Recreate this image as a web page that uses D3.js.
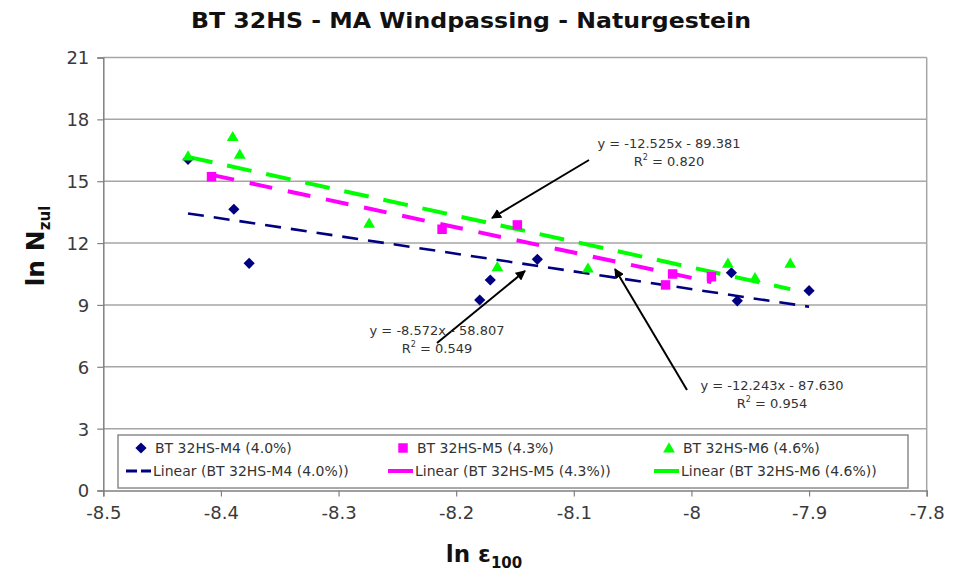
<!DOCTYPE html>
<html><head><meta charset="utf-8">
<script src="https://cdn.jsdelivr.net/npm/d3@7"></script>
<style>body{margin:0;background:#fff;} svg{display:block;font-family:"DejaVu Sans",sans-serif;}</style>
</head><body>
<svg id="chart" width="954" height="579"></svg>
<script>
// ---- data ----
const seriesNames = ["BT 32HS-M4 (4.0%)", "BT 32HS-M5 (4.3%)", "BT 32HS-M6 (4.6%)"];
const m4x = [-8.428, -8.389, -8.376, -8.180, -8.171, -8.131, -7.966, -7.961, -7.900];
const m4y = [16.06, 13.64, 11.02, 9.24, 10.21, 11.21, 10.56, 9.20, 9.69];
const m5x = [-8.408, -8.212, -8.148, -8.022, -8.016, -7.983];
const m5y = [15.22, 12.67, 12.88, 9.97, 10.50, 10.37];
const m6x = [-8.428, -8.390, -8.384, -8.274, -8.165, -8.088, -7.969, -7.946, -7.916];
const m6y = [16.22, 17.16, 16.30, 12.96, 10.85, 10.78, 11.02, 10.32, 11.02];
const trendSlopes = [-8.572, -12.243, -12.525];
const trendIntercepts = [-58.807, -87.630, -89.381];
const trendR2 = ["0.549", "0.954", "0.820"];
const xTicks = [-8.5, -8.4, -8.3, -8.2, -8.1, -8, -7.9, -7.8];
const yTicks = [0, 3, 6, 9, 12, 15, 18, 21];

const colors = ["#000080", "#ff00ff", "#00ff00"];
const svg = d3.select("#chart");
const x = d3.scaleLinear().domain([-8.5, -7.8]).range([103.3, 926.7]);
const y = d3.scaleLinear().domain([0, 21]).range([490.5, 57.5]);

// title
svg.append("text").attr("x", 471).attr("y", 28).attr("text-anchor", "middle")
  .attr("font-size", 21).attr("font-weight", "bold").attr("fill", "#111")
  .attr("textLength", 560).attr("lengthAdjust", "spacingAndGlyphs")
  .text("BT 32HS - MA Windpassing - Naturgestein");

// gridlines
svg.append("g").selectAll("line").data(yTicks.filter(d => d > 0)).join("line")
  .attr("x1", x(-8.5)).attr("x2", x(-7.8)).attr("y1", d => y(d)).attr("y2", d => y(d))
  .attr("stroke", "#a6a6a6").attr("stroke-width", 1.5);
svg.append("line").attr("x1", x(-7.8)).attr("x2", x(-7.8)).attr("y1", y(21)).attr("y2", y(0))
  .attr("stroke", "#a6a6a6").attr("stroke-width", 1.5);

// axes
const xAxis = svg.append("g").attr("transform", `translate(0,${y(0)})`)
  .call(d3.axisBottom(x).tickValues(xTicks).tickSize(6).tickPadding(10).tickFormat(d => String(d)));
const yAxis = svg.append("g").attr("transform", `translate(${x(-8.5)},0)`)
  .call(d3.axisLeft(y).tickValues(yTicks).tickSize(6).tickPadding(8));
[xAxis, yAxis].forEach(a => {
  a.select(".domain").attr("stroke", "#808080").attr("stroke-width", 1.5);
  a.selectAll(".tick line").attr("stroke", "#808080").attr("stroke-width", 1.2);
  a.selectAll(".tick text").attr("font-size", 18).attr("fill", "#3a3a3a")
    .attr("font-family", "'DejaVu Sans',sans-serif");
});
yAxis.selectAll(".tick text").attr("dy", "0.36em");

// axis titles
const yl = svg.append("text").attr("transform", "translate(44,246) rotate(-90)")
  .attr("text-anchor", "middle").attr("font-weight", "bold").attr("font-size", 25).attr("fill", "#111");
yl.append("tspan").text("ln N");
yl.append("tspan").attr("font-size", 15).attr("dy", 6).text("zul");
const xl = svg.append("text").attr("x", 484).attr("y", 562)
  .attr("text-anchor", "middle").attr("font-weight", "bold").attr("font-size", 23).attr("fill", "#111");
xl.append("tspan").text("ln ε");
xl.append("tspan").attr("font-size", 15).attr("dy", 6).text("100");

// trend lines
const seriesX = [m4x, m5x, m6x];
const dashes = ["16,10", "23,16", "25,15"];
const widths = [2.6, 4, 4];
[0, 1, 2].forEach(i => {
  const ext = d3.extent(seriesX[i]);
  const f = v => trendSlopes[i] * v + trendIntercepts[i];
  svg.append("line").attr("x1", x(ext[0])).attr("y1", y(f(ext[0])))
    .attr("x2", x(ext[1])).attr("y2", y(f(ext[1])))
    .attr("stroke", colors[i]).attr("stroke-width", widths[i]).attr("stroke-dasharray", dashes[i]);
});

// markers
const diamond = d3.symbol().type(d3.symbolDiamond2).size(80);
const square = d3.symbol().type(d3.symbolSquare).size(90);
const tri = d3.symbol().type(d3.symbolTriangle).size(60);
svg.append("g").selectAll("path").data(d3.zip(m4x, m4y)).join("path")
  .attr("d", diamond).attr("transform", d => `translate(${x(d[0])},${y(d[1])})`)
  .attr("fill", colors[0]);
svg.append("g").selectAll("path").data(d3.zip(m5x, m5y)).join("path")
  .attr("d", square).attr("transform", d => `translate(${x(d[0])},${y(d[1])})`)
  .attr("fill", colors[1]);
svg.append("g").selectAll("path").data(d3.zip(m6x, m6y)).join("path")
  .attr("d", tri).attr("transform", d => `translate(${x(d[0])},${y(d[1]) + 1})`)
  .attr("fill", colors[2]);

// annotations
svg.append("defs").append("marker").attr("id", "arr").attr("viewBox", "0 0 10 10")
  .attr("refX", 9).attr("refY", 5).attr("markerWidth", 5).attr("markerHeight", 5)
  .attr("orient", "auto").append("path").attr("d", "M0,0L10,5L0,10z").attr("fill", "#000");
const annPos = [[437, 331], [772, 386], [669, 144]];
const arrowFrom = [[437, 343], [687, 390], [589, 160]];
const arrowTo = [[525, 271], [615, 269], [492, 218]];
[0, 1, 2].forEach(i => {
  svg.append("line").attr("x1", arrowFrom[i][0]).attr("y1", arrowFrom[i][1])
    .attr("x2", arrowTo[i][0]).attr("y2", arrowTo[i][1])
    .attr("stroke", "#000").attr("stroke-width", 2).attr("marker-end", "url(#arr)");
  const t = svg.append("text").attr("text-anchor", "middle").attr("font-size", 13).attr("fill", "#333");
  t.append("tspan").attr("x", annPos[i][0]).attr("y", annPos[i][1] + 4)
    .text(`y = ${trendSlopes[i].toFixed(3)}x - ${(-trendIntercepts[i]).toFixed(3)}`);
  t.append("tspan").attr("x", annPos[i][0]).attr("y", annPos[i][1] + 22).text("R");
  t.append("tspan").attr("font-size", 8).attr("dy", -6).text("2");
  t.append("tspan").attr("dy", 6).text(" = " + trendR2[i]);
});

// legend
const lg = svg.append("g");
lg.append("rect").attr("x", 118).attr("y", 435).attr("width", 790).attr("height", 53)
  .attr("fill", "#fff").attr("stroke", "#8c8c8c").attr("stroke-width", 1.5);
const colX = [118, 380, 646];
const markerGens = [diamond, square, tri];
[0, 1, 2].forEach(i => {
  const g = lg.append("g").attr("transform", `translate(${colX[i]},0)`);
  g.append("path").attr("d", markerGens[i])
    .attr("transform", `translate(23,${i === 2 ? 449 : 448})`)
    .attr("fill", colors[i]);
  g.append("text").attr("x", 37).attr("y", 453).attr("font-size", 14).attr("fill", "#333")
    .text(seriesNames[i]);
  g.append("line").attr("x1", 8).attr("x2", 33).attr("y1", 471).attr("y2", 471)
    .attr("stroke", colors[i]).attr("stroke-width", i === 0 ? 3 : 4)
    .attr("stroke-dasharray", i === 0 ? "11,4" : null);
  g.append("text").attr("x", 35).attr("y", 476).attr("font-size", 14).attr("fill", "#333")
    .text(`Linear (${seriesNames[i]})`);
});
</script>
</body></html>
